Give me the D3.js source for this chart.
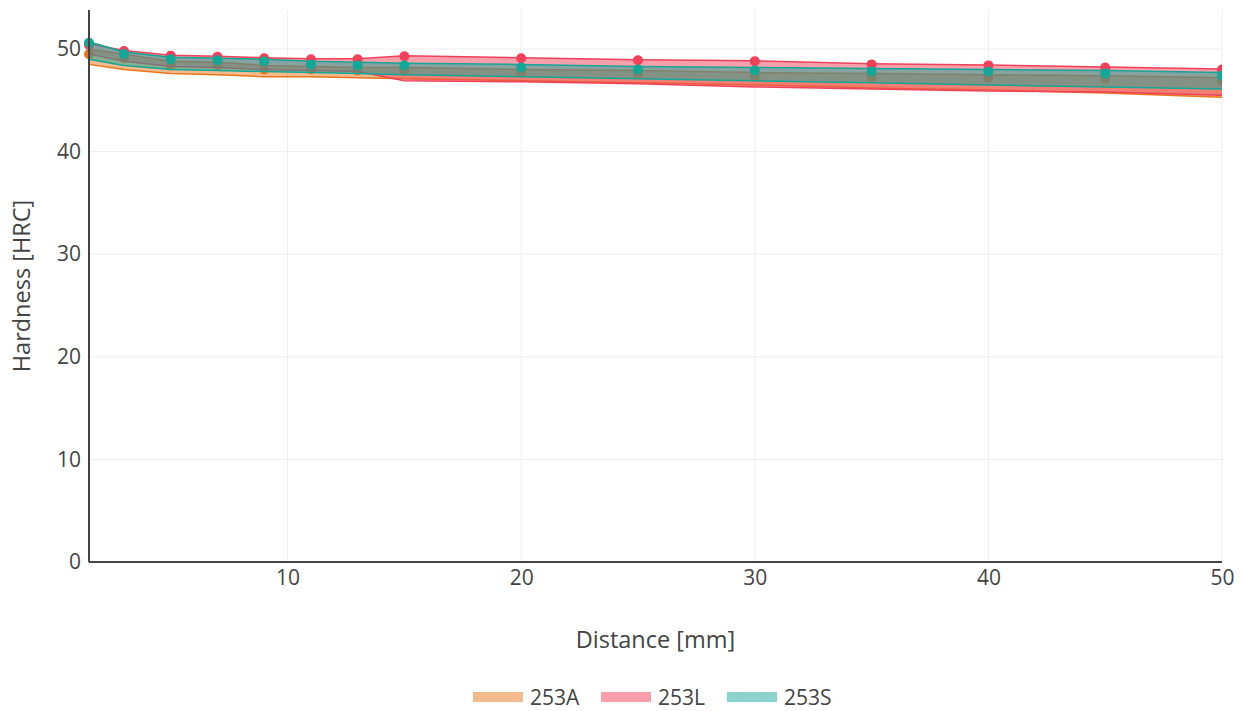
<!DOCTYPE html>
<meta charset="utf-8">
<style>
  body { margin: 0; background: #fff; }
  text { font-family: "Open Sans", "Noto Sans", sans-serif; fill: #444; }
  .grid line { stroke: #eee; stroke-width: 1; }
  .axis path, .axis line { stroke: #444; }
</style>
<svg width="1244" height="711"></svg>
<script src="https://d3js.org/d3.v7.min.js"></script>
<script>
// Data
var distance = [1.5, 3, 5, 7, 9, 11, 13, 15, 20, 25, 30, 35, 40, 45, 50];

var meanA = [49.5, 49.1, 48.4, 48.4, 48.0, 48.0, 47.9, 47.9, 47.7, 47.6, 47.3, 47.3, 47.2, 47.1, 46.9];
var maxA  = [50.0, 49.5, 48.8, 48.7, 48.4, 48.3, 48.2, 48.2, 48.0, 47.9, 47.7, 47.6, 47.5, 47.4, 47.2];
var minA  = [48.5, 48.0, 47.6, 47.5, 47.3, 47.3, 47.2, 47.1, 46.9, 46.7, 46.5, 46.2, 46.0, 45.7, 45.3];

var meanL = [50.4, 49.8, 49.35, 49.25, 49.1, 49.0, 49.0, 49.3, 49.1, 48.9, 48.8, 48.5, 48.4, 48.2, 48.0];
var maxL  = [50.5, 49.85, 49.4, 49.3, 49.15, 49.05, 49.05, 49.35, 49.15, 48.95, 48.85, 48.55, 48.45, 48.25, 48.05];
var minL  = [49.5, 48.8, 48.3, 48.2, 48.0, 47.9, 47.8, 46.9, 46.8, 46.6, 46.3, 46.1, 45.9, 45.8, 45.5];

var meanS = [50.6, 49.5, 49.0, 48.9, 48.8, 48.5, 48.4, 48.4, 48.2, 48.0, 47.9, 47.8, 47.8, 47.6, 47.4];
var maxS  = [50.7, 49.7, 49.2, 49.1, 49.0, 48.8, 48.7, 48.6, 48.5, 48.3, 48.2, 48.1, 48.0, 47.9, 47.7];
var minS  = [49.0, 48.4, 48.0, 47.9, 47.8, 47.7, 47.6, 47.5, 47.3, 47.1, 46.9, 46.7, 46.5, 46.3, 46.1];

var seriesNames = ["253A", "253L", "253S"];
var xTicks = [10, 20, 30, 40, 50];
var yTicks = [0, 10, 20, 30, 40, 50];

var series = [
  { name: seriesNames[0], color: "#e8761c", mean: meanA, max: maxA, min: minA },
  { name: seriesNames[1], color: "#ef4159", mean: meanL, max: maxL, min: minL },
  { name: seriesNames[2], color: "#16a697", mean: meanS, max: maxS, min: minS }
];

var svg = d3.select("svg");
var margin = { left: 89, right: 22, top: 10, bottom: 149 };
var width = 1244 - margin.left - margin.right,
    height = 711 - margin.top - margin.bottom;

var x = d3.scaleLinear().domain([1.5, 50]).range([0, width]);
var y = d3.scaleLinear().domain([0, 53.8]).range([height, 0]);

var g = svg.append("g").attr("transform", "translate(" + margin.left + "," + margin.top + ")");

// grid
var grid = g.append("g").attr("class", "grid");
grid.selectAll(".gx").data(xTicks).enter().append("line")
    .attr("x1", function(d) { return x(d); }).attr("x2", function(d) { return x(d); })
    .attr("y1", 0).attr("y2", height);
grid.selectAll(".gy").data(yTicks).enter().append("line")
    .attr("x1", 0).attr("x2", width)
    .attr("y1", function(d) { return y(d); }).attr("y2", function(d) { return y(d); });

// bands, lines and markers
var clip = g.append("clipPath").attr("id", "clip").append("rect")
    .attr("x", -8).attr("y", 0).attr("width", width + 8).attr("height", height);
var plot = g.append("g").attr("clip-path", "url(#clip)");

series.forEach(function(s) {
  var rows = distance.map(function(d, i) { return { x: d, lo: s.min[i], hi: s.max[i], m: s.mean[i] }; });
  var area = d3.area()
      .x(function(d) { return x(d.x); })
      .y0(function(d) { return y(d.lo); })
      .y1(function(d) { return y(d.hi); });
  plot.append("path").datum(rows)
      .attr("d", area)
      .attr("fill", s.color)
      .attr("fill-opacity", 0.5);
  ["lo", "hi"].forEach(function(k) {
    plot.append("path").datum(rows)
        .attr("d", d3.line().x(function(d) { return x(d.x); }).y(function(d) { return y(d[k]); }))
        .attr("fill", "none")
        .attr("stroke", s.color)
        .attr("stroke-width", 1.5);
  });
  plot.selectAll(null).data(rows).enter().append("circle")
      .attr("cx", function(d) { return x(d.x); })
      .attr("cy", function(d) { return y(d.m); })
      .attr("r", 5)
      .attr("fill", s.color);
});

// axes
var xAxis = g.append("g").attr("class", "axis")
    .attr("transform", "translate(0," + height + ")")
    .call(d3.axisBottom(x).tickValues(xTicks).tickSize(0).tickPadding(8));
xAxis.select(".domain").attr("stroke-width", 2).attr("d", "M0,0H" + width);
xAxis.selectAll("text").style("font-size", "21px").attr("font-family", null);

var yAxis = g.append("g").attr("class", "axis")
    .call(d3.axisLeft(y).tickValues(yTicks).tickSize(0).tickPadding(8));
yAxis.select(".domain").attr("stroke-width", 2).attr("d", "M0," + height + "V0");
yAxis.selectAll("text").style("font-size", "21px").attr("font-family", null);

// titles
svg.append("text")
    .attr("x", margin.left + width / 2).attr("y", 648)
    .attr("text-anchor", "middle")
    .style("font-size", "23.5px")
    .text("Distance [mm]");
svg.append("text")
    .attr("transform", "translate(30," + (margin.top + height / 2) + ") rotate(-90)")
    .attr("text-anchor", "middle")
    .style("font-size", "23.5px")
    .text("Hardness [HRC]");

// legend
var legendX = [473, 601, 727];
var legend = svg.append("g");
series.forEach(function(s, i) {
  legend.append("rect")
      .attr("x", legendX[i]).attr("y", 692)
      .attr("width", 50).attr("height", 10)
      .attr("fill", s.color).attr("fill-opacity", 0.5);
  legend.append("text")
      .attr("x", legendX[i] + 57).attr("y", 705)
      .style("font-size", "21px")
      .text(s.name);
});
</script>
